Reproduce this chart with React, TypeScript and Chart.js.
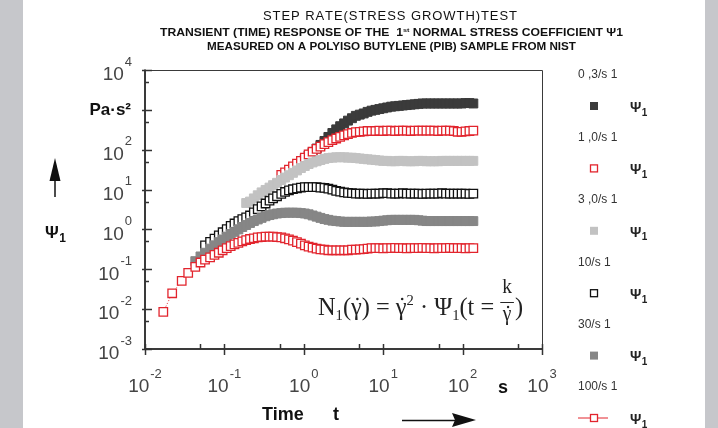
import { useEffect, useRef } from "react";
import { Chart, registerables } from "chart.js";

Chart.register(...registerables);

// ---------- data ----------
// shared time grid, s
const times = [
  0.017, 0.022, 0.029, 0.035, 0.043, 0.05, 0.057, 0.066, 0.075, 0.085,
  0.095, 0.107, 0.12, 0.134, 0.15, 0.168, 0.188, 0.21, 0.235, 0.263,
  0.294, 0.33, 0.37, 0.41, 0.46, 0.52, 0.58, 0.65, 0.73, 0.82,
  0.92, 1.03, 1.15, 1.29, 1.45, 1.62, 1.82, 2.04, 2.29, 2.56,
  2.87, 3.22, 3.6, 4.04, 4.52, 5.07, 5.68, 6.36, 7.13, 7.98,
  8.94, 10.0, 11.2, 12.6, 14.1, 15.8, 17.7, 19.8, 22.2, 24.9,
  27.9, 31.2, 35.0, 39.2, 43.9, 49.2, 55.1, 61.7, 69.1, 77.4,
  86.7, 97.1, 108.8, 121.9, 136.5,
];

const rateLabels = ["0 ,3/s 1", "1 ,0/s 1", "3 ,0/s 1", "10/s 1", "30/s 1", "100/s 1"];
// index in `times` at which each series begins
const seriesStart = [31, 25, 16, 6, 4, 0];

// Psi1+ values, Pa·s²
const psi03 = [
  60, 72, 87, 107, 132, 166, 209, 263, 324,
  389, 457, 537, 617, 708, 759, 813, 891, 955, 1000,
  1047, 1096, 1148, 1202, 1230, 1259, 1288, 1318, 1349, 1380,
  1413, 1445, 1445, 1445, 1445, 1445, 1445, 1445, 1445, 1445,
  1445, 1445, 1479, 1479, 1445,
];
const psi1 = [
  23.4, 26.9, 31.6, 38, 44.7,
  52.5, 63, 76, 89, 105, 120, 138, 155, 174, 191,
  209, 229, 245, 263, 275, 282, 288, 295, 295, 295,
  302, 295, 302, 302, 295, 302, 302, 302, 295, 302,
  302, 302, 302, 302, 302, 295, 302, 302, 302, 295,
  282, 282, 288, 295, 302,
];
const psi3 = [
  4.6, 5.0, 6.0, 7.2,
  8.5, 9.8, 11.2, 12.9, 14.8, 17.4, 20, 22.9, 26.3, 30.2,
  34.7, 38.9, 43.7, 47.9, 51.3, 55, 58.9, 61.7, 63.1, 64.6,
  64.6, 64.6, 63.1, 63.1, 61.7, 60.3, 58.9, 57.5, 56.2, 55,
  53.7, 52.5, 52.5, 51.3, 51.3, 52.5, 52.5, 51.3, 51.3, 51.3,
  52.5, 52.5, 51.3, 51.3, 51.3, 51.3, 52.5, 52.5, 52.5, 52.5,
  52.5, 52.5, 52.5, 52.5, 52.5,
];
const psi10 = [
  0.4, 0.49, 0.59, 0.71,
  0.85, 1.02, 1.23, 1.41, 1.62, 1.82, 2.0, 2.24, 2.69, 3.24,
  3.8, 4.47, 5.25, 6.0, 6.8, 7.8, 8.7, 9.5, 10.2, 10.7,
  11.2, 11.5, 11.5, 11.5, 11.5, 11.2, 11.0, 10.5, 10.0, 9.3,
  8.9, 8.5, 8.3, 8.1, 7.9, 7.9, 7.9, 7.8, 7.9, 7.9,
  7.9, 8.1, 8.1, 7.9, 7.9, 7.9, 8.1, 7.9, 7.9, 7.9,
  7.9, 7.8, 7.9, 7.9, 7.9, 7.9, 8.1, 7.9, 7.9, 7.9,
  7.9, 7.9, 7.9, 7.8, 7.9,
];
const psi30 = [
  0.16, 0.21, 0.26, 0.33, 0.4, 0.48,
  0.56, 0.66, 0.76, 0.87, 1.0, 1.15, 1.29, 1.45, 1.62, 1.78,
  1.95, 2.14, 2.29, 2.4, 2.51, 2.57, 2.63, 2.63, 2.63, 2.63,
  2.57, 2.51, 2.4, 2.24, 2.09, 1.95, 1.82, 1.74, 1.66, 1.62,
  1.58, 1.55, 1.55, 1.55, 1.55, 1.55, 1.55, 1.55, 1.58, 1.58,
  1.62, 1.66, 1.7, 1.74, 1.74, 1.74, 1.74, 1.74, 1.74, 1.74,
  1.7, 1.66, 1.62, 1.62, 1.62, 1.62, 1.62, 1.62, 1.62, 1.62,
  1.62, 1.62, 1.62, 1.62, 1.62,
];
const psi100 = [
  0.0085, 0.025, 0.051, 0.081, 0.115, 0.148, 0.174, 0.2, 0.23, 0.26,
  0.3, 0.34, 0.38, 0.42, 0.46, 0.5, 0.54, 0.575, 0.6, 0.63,
  0.645, 0.66, 0.66, 0.66, 0.645, 0.63, 0.6, 0.56, 0.525, 0.48,
  0.44, 0.4, 0.37, 0.35, 0.33, 0.316, 0.31, 0.3, 0.3, 0.3,
  0.3, 0.3, 0.3, 0.31, 0.31, 0.316, 0.32, 0.33, 0.34, 0.34,
  0.34, 0.335, 0.34, 0.34, 0.345, 0.34, 0.34, 0.335, 0.34, 0.34,
  0.34, 0.345, 0.34, 0.34, 0.335, 0.34, 0.34, 0.34, 0.345, 0.34,
  0.34, 0.34, 0.335, 0.34, 0.34,
];
const seriesValues = [psi03, psi1, psi3, psi10, psi30, psi100];

const xTickExps = [-2, -1, 0, 1, 2, 3];
const yTickExps = [-3, -2, -1, 0, 1, 2, 3, 4];
const yUnitExp = 3; // this decade is labelled with the unit instead
const yUnitLabel = "Pa·s²";

const titleLine1 = "STEP RATE(STRESS GROWTH)TEST";
const titleLine2a = "TRANSIENT (TIME) RESPONSE OF THE  1";
const titleLine2b = "st";
const titleLine2c = " NORMAL STRESS COEFFICIENT Ψ1";
const titleLine3 = "MEASURED ON A POLYISO BUTYLENE (PIB) SAMPLE FROM NIST";

// ---------- styling ----------
const SANS = '"Liberation Sans", Arial, Helvetica, sans-serif';
const NARROW = '"Liberation Sans Narrow", "Liberation Sans", Arial, sans-serif';
const SERIF = '"Liberation Serif", "DejaVu Serif", "Times New Roman", serif';
const RED = "#e2242d";
const seriesColors = ["#3b3b3b", RED, "#c2c2c2", "#111111", "#868686", RED];
const seriesFilled = [true, false, true, false, true, false];

type Run = { t: string; f: string; dy: number };

function drawRunsFit(ctx: CanvasRenderingContext2D, runs: Run[], x0: number, x1: number, baseline: number) {
  ctx.save();
  let total = 0;
  const ws = runs.map((r) => {
    ctx.font = r.f;
    const w = ctx.measureText(r.t).width;
    total += w;
    return w;
  });
  const s = (x1 - x0) / total;
  ctx.translate(x0, baseline);
  ctx.scale(s, 1);
  ctx.textBaseline = "alphabetic";
  ctx.textAlign = "left";
  let x = 0;
  runs.forEach((r, i) => {
    ctx.font = r.f;
    ctx.fillText(r.t, x, r.dy);
    x += ws[i];
  });
  ctx.restore();
}

function drawSpaced(ctx: CanvasRenderingContext2D, text: string, font: string, x0: number, x1: number, baseline: number) {
  ctx.save();
  ctx.font = font;
  ctx.textBaseline = "alphabetic";
  ctx.textAlign = "left";
  const chars = Array.from(text);
  const ws = chars.map((c) => ctx.measureText(c).width);
  const nat = ws.reduce((a, b) => a + b, 0);
  const gap = (x1 - x0 - nat) / (chars.length - 1);
  let x = x0;
  chars.forEach((c, i) => {
    ctx.fillText(c, x, baseline);
    x += ws[i] + gap;
  });
  ctx.restore();
}

function drawFormula(ctx: CanvasRenderingContext2D, x0: number, x1: number, baseline: number) {
  const F = `25px ${SERIF}`;
  const S = `15px ${SERIF}`;
  const FR = `20px ${SERIF}`;
  type P = { t: string; f: string; dy: number; dot?: boolean };
  const parts: P[] = [
    { t: "N", f: F, dy: 0 },
    { t: "1", f: S, dy: 5 },
    { t: "(", f: F, dy: 0 },
    { t: "γ", f: F, dy: 0, dot: true },
    { t: ")", f: F, dy: 0 },
    { t: " = ", f: F, dy: 0 },
    { t: "γ", f: F, dy: 0, dot: true },
    { t: "2", f: S, dy: -10 },
    { t: " · ", f: F, dy: 0 },
    { t: "Ψ", f: F, dy: 0 },
    { t: "1", f: S, dy: 5 },
    { t: "(t = ", f: F, dy: 0 },
  ];
  ctx.save();
  const ws = parts.map((p) => {
    ctx.font = p.f;
    return ctx.measureText(p.t).width;
  });
  ctx.font = FR;
  const kw = ctx.measureText("k").width;
  const gw = ctx.measureText("γ").width;
  const fw = Math.max(kw, gw) + 4;
  ctx.font = F;
  const cw = ctx.measureText(")").width;
  const total = ws.reduce((a, b) => a + b, 0) + fw + 1 + cw;
  const s = (x1 - x0) / total;
  ctx.translate(x0, baseline);
  ctx.scale(s, 1);
  ctx.fillStyle = "#222";
  ctx.strokeStyle = "#222";
  ctx.textBaseline = "alphabetic";
  ctx.textAlign = "left";
  let x = 0;
  parts.forEach((p, i) => {
    ctx.font = p.f;
    ctx.fillText(p.t, x, p.dy);
    if (p.dot) {
      ctx.beginPath();
      ctx.arc(x + ws[i] / 2 + 1, -16, 1.3, 0, Math.PI * 2);
      ctx.fill();
    }
    x += ws[i];
  });
  // fraction k / γ̇
  ctx.font = FR;
  ctx.fillText("k", x + (fw - kw) / 2, -22);
  ctx.lineWidth = 1;
  ctx.beginPath();
  ctx.moveTo(x, -12.5);
  ctx.lineTo(x + fw, -12.5);
  ctx.stroke();
  ctx.fillText("γ", x + (fw - gw) / 2, 5);
  ctx.beginPath();
  ctx.arc(x + fw / 2 + 1, -8, 1.2, 0, Math.PI * 2);
  ctx.fill();
  x += fw + 1;
  ctx.font = F;
  ctx.fillText(")", x, 0);
  ctx.restore();
}

function drawMarker(ctx: CanvasRenderingContext2D, i: number, cx: number, cy: number) {
  const c = seriesColors[i];
  const h = 4;
  ctx.save();
  if (i === 5) {
    ctx.strokeStyle = c;
    ctx.lineWidth = 1;
    ctx.beginPath();
    ctx.moveTo(cx - 16, cy);
    ctx.lineTo(cx + 14, cy);
    ctx.stroke();
  }
  if (seriesFilled[i]) {
    ctx.fillStyle = c;
    ctx.fillRect(cx - h, cy - h, 2 * h, 2 * h);
  } else {
    ctx.fillStyle = "#fff";
    ctx.fillRect(cx - h, cy - h, 2 * h, 2 * h);
    ctx.strokeStyle = c;
    ctx.lineWidth = 1.3;
    ctx.strokeRect(cx - h + 0.5, cy - h + 0.5, 2 * h - 1, 2 * h - 1);
  }
  ctx.restore();
}

function drawPsi1(ctx: CanvasRenderingContext2D, x: number, cy: number, size: number, color: string) {
  ctx.save();
  ctx.fillStyle = color;
  ctx.textBaseline = "middle";
  ctx.textAlign = "left";
  ctx.font = `bold ${size}px ${SANS}`;
  ctx.fillText("Ψ", x, cy);
  const w = ctx.measureText("Ψ").width;
  ctx.font = `bold ${Math.round(size * 0.68)}px ${SANS}`;
  ctx.fillText("1", x + w + 0.5, cy + size * 0.35);
  ctx.restore();
}

const decorPlugin = {
  id: "decor",
  beforeDraw(chart: any) {
    const ctx: CanvasRenderingContext2D = chart.ctx;
    const w = chart.width;
    const h = chart.height;
    ctx.save();
    ctx.fillStyle = "#ffffff";
    ctx.fillRect(0, 0, w, h);
    ctx.fillStyle = "#c6c7cb";
    ctx.fillRect(0, 0, 23, h);
    ctx.fillRect(705, 0, w - 705, h);
    ctx.restore();
  },
  afterDraw(chart: any) {
    const ctx: CanvasRenderingContext2D = chart.ctx;
    const xs = chart.scales.x;
    const ys = chart.scales.y;
    const { left: L, right: R, top: T, bottom: B } = chart.chartArea;
    ctx.save();

    // frame
    ctx.strokeStyle = "#3a3a3a";
    ctx.lineWidth = 1;
    ctx.beginPath();
    ctx.moveTo(L, T + 0.5);
    ctx.lineTo(R + 0.5, T + 0.5);
    ctx.lineTo(R + 0.5, B);
    ctx.stroke();
    ctx.lineWidth = 2;
    ctx.beginPath();
    ctx.moveTo(L, T - 0.5);
    ctx.lineTo(L, B);
    ctx.lineTo(R + 1, B);
    ctx.stroke();

    // ticks
    ctx.lineWidth = 1.5;
    ctx.strokeStyle = "#333";
    xTickExps.forEach((e, i) => {
      const px = Math.round(xs.getPixelForValue(Math.pow(10, e))) + 0.5;
      ctx.beginPath();
      ctx.moveTo(px, B - 5);
      ctx.lineTo(px, B + 6);
      ctx.stroke();
      if (i < xTickExps.length - 1) {
        const pm = Math.round(xs.getPixelForValue(5 * Math.pow(10, e))) + 0.5;
        ctx.beginPath();
        ctx.moveTo(pm, B - 5);
        ctx.lineTo(pm, B);
        ctx.stroke();
      }
    });
    yTickExps.forEach((e, i) => {
      const py = Math.round(ys.getPixelForValue(Math.pow(10, e))) + 0.5;
      ctx.beginPath();
      ctx.moveTo(L - 3, py);
      ctx.lineTo(L + 7, py);
      ctx.stroke();
      if (i < yTickExps.length - 1) {
        const pm = Math.round(ys.getPixelForValue(5 * Math.pow(10, e))) + 0.5;
        ctx.beginPath();
        ctx.moveTo(L, pm);
        ctx.lineTo(L + 4, pm);
        ctx.stroke();
      }
    });

    // tick labels
    const F10 = `19px ${SANS}`;
    const FEX = `13px ${SANS}`;
    ctx.fillStyle = "#444";
    ctx.textBaseline = "middle";
    ctx.textAlign = "left";
    yTickExps.forEach((e) => {
      const py = ys.getPixelForValue(Math.pow(10, e));
      if (e === yUnitExp) {
        ctx.save();
        ctx.fillStyle = "#111";
        ctx.font = `bold 17px ${SANS}`;
        ctx.textAlign = "right";
        ctx.fillText(yUnitLabel, 131, py);
        ctx.restore();
        return;
      }
      const ex = String(e);
      ctx.font = F10;
      const w10 = ctx.measureText("10").width;
      ctx.font = FEX;
      const we = ctx.measureText(ex).width;
      const x0 = 132 - (w10 + 1 + we);
      ctx.font = F10;
      ctx.fillText("10", x0, py + 5);
      ctx.font = FEX;
      ctx.fillText(ex, x0 + w10 + 1, py - 8);
    });
    xTickExps.forEach((e) => {
      const px = xs.getPixelForValue(Math.pow(10, e));
      const ex = String(e);
      ctx.font = F10;
      const w10 = ctx.measureText("10").width;
      ctx.font = FEX;
      const we = ctx.measureText(ex).width;
      const x0 = px - (w10 + 1 + we) / 2;
      ctx.font = F10;
      ctx.fillText("10", x0, B + 38);
      ctx.font = FEX;
      ctx.fillText(ex, x0 + w10 + 1, B + 25);
    });

    // axis titles
    ctx.fillStyle = "#111";
    ctx.font = `bold 18px ${SANS}`;
    ctx.fillText("Time", 262, B + 66);
    ctx.fillText("t", 333, B + 66);
    ctx.fillText("s", 498, B + 39);
    drawPsi1(ctx, 45, 233, 17, "#111");

    // arrows
    ctx.strokeStyle = "#111";
    ctx.fillStyle = "#111";
    ctx.lineWidth = 1.5;
    ctx.beginPath();
    ctx.moveTo(55, 197);
    ctx.lineTo(55, 176);
    ctx.stroke();
    ctx.beginPath();
    ctx.moveTo(55, 158);
    ctx.lineTo(60.5, 181);
    ctx.lineTo(49.5, 181);
    ctx.closePath();
    ctx.fill();
    ctx.beginPath();
    ctx.moveTo(402, 420.5);
    ctx.lineTo(456, 420.5);
    ctx.stroke();
    ctx.beginPath();
    ctx.moveTo(476, 420);
    ctx.lineTo(452, 413);
    ctx.lineTo(455, 420);
    ctx.lineTo(452, 427);
    ctx.closePath();
    ctx.fill();

    // titles
    ctx.fillStyle = "#111";
    drawSpaced(ctx, titleLine1, `13px ${NARROW}`, 263, 517, 20);
    drawRunsFit(
      ctx,
      [
        { t: titleLine2a, f: `bold 10px ${NARROW}`, dy: 0 },
        { t: titleLine2b, f: `bold 6px ${NARROW}`, dy: -4 },
        { t: titleLine2c, f: `bold 10px ${NARROW}`, dy: 0 },
      ],
      160,
      623,
      36
    );
    drawRunsFit(ctx, [{ t: titleLine3, f: `bold 10px ${NARROW}`, dy: 0 }], 207, 576, 50);

    // formula
    drawFormula(ctx, 318, 523, 315);

    // legend
    rateLabels.forEach((lab, i) => {
      const ty = 75 + i * 62.4;
      ctx.fillStyle = "#333";
      ctx.font = `12px ${SANS}`;
      ctx.textBaseline = "middle";
      ctx.textAlign = "left";
      ctx.fillText(lab, 578, ty);
      drawMarker(ctx, i, 594, ty + 31);
      drawPsi1(ctx, 630, ty + 33, 14, "#222");
    });

    ctx.restore();
  },
};

export default function App() {
  const ref = useRef<HTMLCanvasElement>(null);
  useEffect(() => {
    if (!ref.current) return;
    const datasets = seriesValues.map((vals, si) => {
      const st = seriesStart[si];
      const filled = seriesFilled[si];
      const c = seriesColors[si];
      return {
        label: rateLabels[si],
        data: vals.map((v, i) => ({ x: times[st + i], y: v })),
        pointStyle: "rect" as const,
        pointRadius: filled ? 6.3 : 6,
        pointHoverRadius: 6,
        pointBackgroundColor: filled ? c : "#ffffff",
        pointBorderColor: c,
        pointBorderWidth: filled ? 1 : 1.3,
        showLine: si === 5,
        borderColor: c,
        borderWidth: 1,
        borderDash: [1, 2],
        order: 6 - si,
      };
    });
    const chart = new Chart(ref.current, {
      type: "scatter",
      data: { datasets },
      options: {
        responsive: false,
        animation: false,
        devicePixelRatio: 1,
        events: [],
        layout: { padding: { left: 145, right: 176, top: 70, bottom: 79 } },
        scales: {
          x: { type: "logarithmic", min: 0.01, max: 1000, display: false },
          y: { type: "logarithmic", min: 0.001, max: 10000, display: false },
        },
        plugins: { legend: { display: false }, tooltip: { enabled: false }, title: { display: false } },
      },
      plugins: [decorPlugin],
    });
    return () => chart.destroy();
  }, []);
  return (
    <div style={{ position: "fixed", left: 0, top: 0, width: 718, height: 428, background: "#fff" }}>
      <canvas ref={ref} width={718} height={428} style={{ display: "block", width: 718, height: 428 }} />
    </div>
  );
}
